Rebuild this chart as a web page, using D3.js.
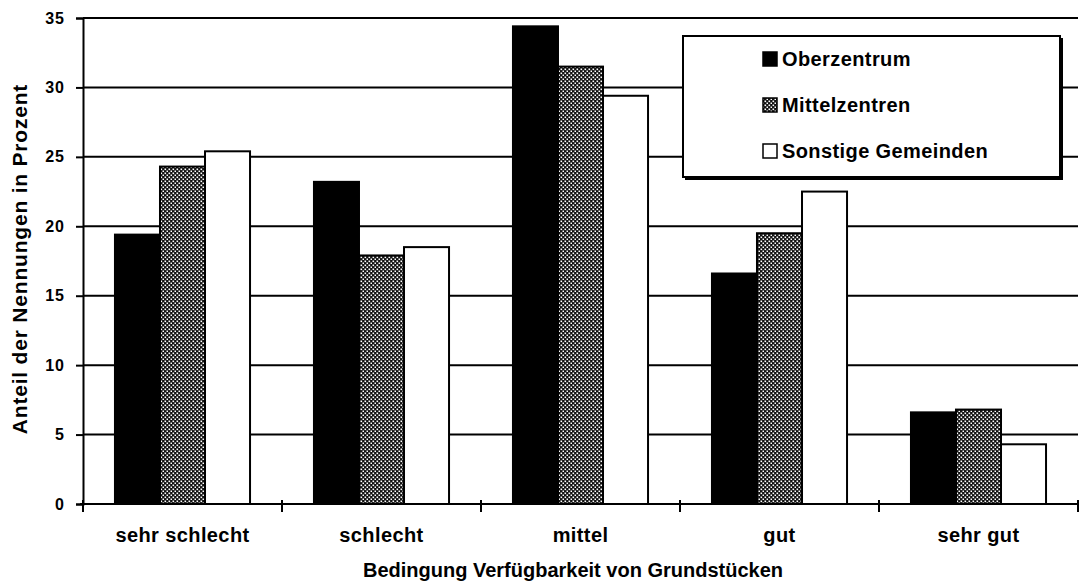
<!DOCTYPE html>
<html><head><meta charset="utf-8">
<script src="https://cdn.jsdelivr.net/npm/d3@7"></script>
<style>body{margin:0;background:#fff}text{font-family:"Liberation Sans",Arial,sans-serif;font-weight:bold;fill:#000}</style>
</head><body><svg id="c" width="1079" height="585"></svg>
<script>
const categories = ["sehr schlecht","schlecht","mittel","gut","sehr gut"];
const seriesNames = ["Oberzentrum","Mittelzentren","Sonstige Gemeinden"];
const oberzentrum = [19.4, 23.2, 34.4, 16.6, 6.6];
const mittelzentren = [24.3, 17.9, 31.5, 19.5, 6.8];
const sonstige = [25.4, 18.5, 29.4, 22.5, 4.3];
const yTicks = [0,5,10,15,20,25,30,35];
const xTitle = "Bedingung Verfügbarkeit von Grundstücken";
const yTitle = "Anteil der Nennungen in Prozent";

const seriesValues = [oberzentrum, mittelzentren, sonstige];
const svg = d3.select("#c");
const m = {l:83, r:1078, t:18, b:504};

const defs = svg.append("defs");
const pat = defs.append("pattern").attr("id","hatch").attr("patternUnits","userSpaceOnUse").attr("width",4).attr("height",4);
pat.append("rect").attr("width",4).attr("height",4).attr("fill","#111");
pat.append("rect").attr("x",0.5).attr("y",0.5).attr("width",1.6).attr("height",1.6).attr("fill","#fff");
pat.append("rect").attr("x",2.5).attr("y",2.5).attr("width",1.6).attr("height",1.6).attr("fill","#fff");
const fills = ["#000","url(#hatch)","#fff"];

const x0 = d3.scaleBand().domain(categories).range([m.l,m.r]).paddingInner(0).paddingOuter(0);
const x1 = d3.scaleBand().domain(seriesNames).range([0,x0.bandwidth()]).paddingOuter(0.71).paddingInner(0);
const y = d3.scaleLinear().domain([0,35]).range([m.b,m.t]);

// gridlines
svg.append("g").selectAll("line").data(yTicks.filter(d=>d>0)).join("line")
  .attr("x1",m.l).attr("x2",m.r).attr("y1",d=>y(d)).attr("y2",d=>y(d))
  .attr("stroke","#000").attr("stroke-width",2);

// bars
const rows = [];
categories.forEach((c,i)=>seriesNames.forEach((s,j)=>rows.push({c,s,j,v:seriesValues[j][i]})));
svg.append("g").selectAll("rect").data(rows).join("rect")
  .attr("x",d=>x0(d.c)+x1(d.s)).attr("width",x1.bandwidth())
  .attr("y",d=>y(d.v)).attr("height",d=>y(0)-y(d.v))
  .attr("fill",d=>fills[d.j]).attr("stroke","#000").attr("stroke-width",2);

// y axis
const ya = svg.append("g").attr("transform",`translate(${m.l},0)`)
  .call(d3.axisLeft(y).tickValues(yTicks).tickSize(7).tickPadding(11));
ya.select(".domain").attr("stroke","#000").attr("stroke-width",2);
ya.selectAll(".tick line").attr("stroke","#000").attr("stroke-width",2);
ya.selectAll(".tick text").style("font-size","16px").style("letter-spacing","1px").style("font-family","Liberation Sans, Arial").style("font-weight","bold").attr("fill","#000");

// x axis
const xa = svg.append("g").attr("transform",`translate(0,${m.b})`);
xa.append("line").attr("x1",m.l-3).attr("x2",m.r).attr("y1",0).attr("y2",0).attr("stroke","#000").attr("stroke-width",2);
const bounds = categories.map(c=>x0(c)).concat([x0(categories[categories.length-1])+x0.bandwidth()]);
xa.selectAll("line.tk").data(bounds).join("line").attr("class","tk")
  .attr("x1",d=>d).attr("x2",d=>d).attr("y1",-4).attr("y2",8).attr("stroke","#000").attr("stroke-width",2);
xa.selectAll("text").data(categories).join("text")
  .attr("x",d=>x0(d)+x0.bandwidth()/2).attr("y",38).attr("text-anchor","middle")
  .style("font-size","20px").style("letter-spacing","0.4px").text(d=>d);

svg.append("text").attr("x",573).attr("y",577).attr("text-anchor","middle").style("font-size","20px").text(xTitle);
svg.append("text").attr("transform","translate(27,259) rotate(-90)").attr("text-anchor","middle").style("font-size","21px").style("letter-spacing","0.8px").text(yTitle);

// legend
const lg = svg.append("g");
lg.append("rect").attr("x",685).attr("y",38).attr("width",378).attr("height",142).attr("fill","#000");
lg.append("rect").attr("x",683).attr("y",36).attr("width",377).attr("height",141).attr("fill","#fff").attr("stroke","#000").attr("stroke-width",2);
seriesNames.forEach((s,j)=>{
  const cy = 59 + j*46;
  lg.append("rect").attr("x",763).attr("y",cy-7).attr("width",14).attr("height",14)
    .attr("fill",fills[j]).attr("stroke","#000").attr("stroke-width",1.5);
  lg.append("text").attr("x",782).attr("y",cy+7).style("font-size","20px").style("letter-spacing","0.4px").text(s);
});
</script></body></html>
